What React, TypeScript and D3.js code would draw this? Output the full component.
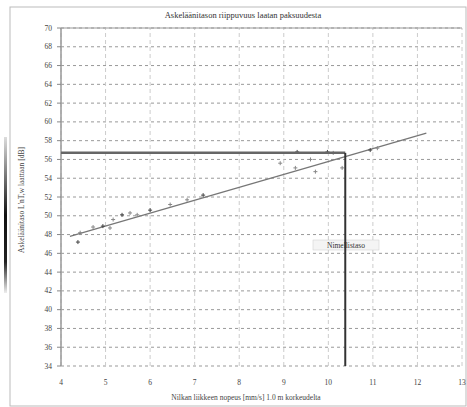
import React from "react";
import * as d3 from "d3";

const title = "Askeläänitason riippuvuus laatan paksuudesta";
const xTitle = "Nilkan liikkeen nopeus [mm/s] 1.0 m korkeudelta";
const yTitle = "Askeläänitaso L'nT,w laattaan [dB]";
const noteText = "Nimellistaso";

const xTicks = [4, 5, 6, 7, 8, 9, 10, 11, 12, 13];
const yTicks = [34, 36, 38, 40, 42, 44, 46, 48, 50, 52, 54, 56, 58, 60, 62, 64, 66, 68, 70];

const pointsX = [4.38, 4.43, 4.72, 4.94, 5.1, 5.17, 5.37, 5.55, 5.71, 6.0, 6.45, 6.83, 7.19, 8.92, 9.26, 9.3, 9.6, 9.71, 9.98, 10.11, 10.31, 10.94, 11.1];
const pointsY = [47.2, 48.2, 48.8, 48.9, 48.7, 49.6, 50.1, 50.3, 50.1, 50.6, 51.2, 51.7, 52.2, 55.6, 55.1, 56.8, 56.0, 54.7, 56.8, 56.7, 55.1, 57.0, 57.2];

const fitX = [4.2, 12.2];
const fitY = [47.8, 58.8];

const refX = 10.38;
const refY = 56.7;

export default function App() {
  const W = 467, H = 407;
  const x = d3.scaleLinear().domain([4, 13]).range([61, 462]);
  const y = d3.scaleLinear().domain([34, 70]).range([366, 28]);
  const line = d3.line<number>().x((_, i) => x(fitX[i])).y((_, i) => y(fitY[i]));
  const font = "'Liberation Serif', 'DejaVu Serif', serif";
  return (
    <svg width={W} height={H} style={{ position: "absolute", left: 0, top: 0, background: "#fff" }} fontFamily={font}>
      <defs>
        <linearGradient id="lb" x1="0" y1="0" x2="0" y2="1">
          <stop offset="0" stopColor="#ddd" />
          <stop offset="0.5" stopColor="#111" />
          <stop offset="0.8" stopColor="#222" />
          <stop offset="1" stopColor="#eee" />
        </linearGradient>
      </defs>
      <rect x={10} y={7} width={456} height={399} fill="none" stroke="#bbb" strokeWidth={1} />
      <rect x={4} y={137} width={3} height={156} fill="url(#lb)" />
      <text x={243} y={18} textAnchor="middle" fontSize={8.5} fill="#333">{title}</text>
      {yTicks.map((t) => (
        <line key={"gy" + t} x1={x(4)} x2={x(13)} y1={y(t)} y2={y(t)} stroke="#999" strokeWidth={1} strokeDasharray="3,3" />
      ))}
      {xTicks.map((t) => (
        <line key={"gx" + t} x1={x(t)} x2={x(t)} y1={y(34)} y2={y(70)} stroke="#ccc" strokeWidth={1} strokeDasharray="4,3" />
      ))}
      <line x1={x(4)} x2={x(13)} y1={y(70)} y2={y(70)} stroke="#999" strokeWidth={1.2} />
      <line x1={x(4)} x2={x(4)} y1={y(34)} y2={y(70)} stroke="#999" strokeWidth={1.5} />
      {yTicks.map((t) => (
        <g key={"ty" + t}>
          <line x1={x(4) - 4} x2={x(4)} y1={y(t)} y2={y(t)} stroke="#888" />
          <text x={52} y={y(t) + 2.5} textAnchor="end" fontSize={7.5} fill="#444">{t}</text>
        </g>
      ))}
      {xTicks.map((t) => (
        <text key={"tx" + t} x={x(t)} y={385} textAnchor="middle" fontSize={7.5} fill="#444">{t}</text>
      ))}
      <text x={246} y={400} textAnchor="middle" fontSize={7.5} fill="#444">{xTitle}</text>
      <text transform={`translate(24,200) rotate(-90)`} textAnchor="middle" fontSize={7.5} fill="#444">{yTitle}</text>
      <path d={line(fitX) || ""} fill="none" stroke="#777" strokeWidth={1.3} />
      {pointsX.map((px, i) => (
        <g key={"p" + i} stroke={i % 3 === 0 ? "#444" : "#888"} strokeWidth={1}>
          <line x1={x(px) - 2} x2={x(px) + 2} y1={y(pointsY[i])} y2={y(pointsY[i])} />
          <line x1={x(px)} x2={x(px)} y1={y(pointsY[i]) - 2} y2={y(pointsY[i]) + 2} />
        </g>
      ))}
      <rect x={313} y={240} width={66} height={10} fill="#f4f4f4" stroke="#ccc" strokeWidth={0.5} />
      <line x1={x(4)} x2={x(refX)} y1={y(refY)} y2={y(refY)} stroke="#666" strokeWidth={2.5} />
      <line x1={x(refX)} x2={x(refX)} y1={y(refY)} y2={y(34)} stroke="#333" strokeWidth={2} />
      <text x={346} y={247.5} textAnchor="middle" fontSize={7.5} fill="#333">{noteText}</text>
    </svg>
  );
}
